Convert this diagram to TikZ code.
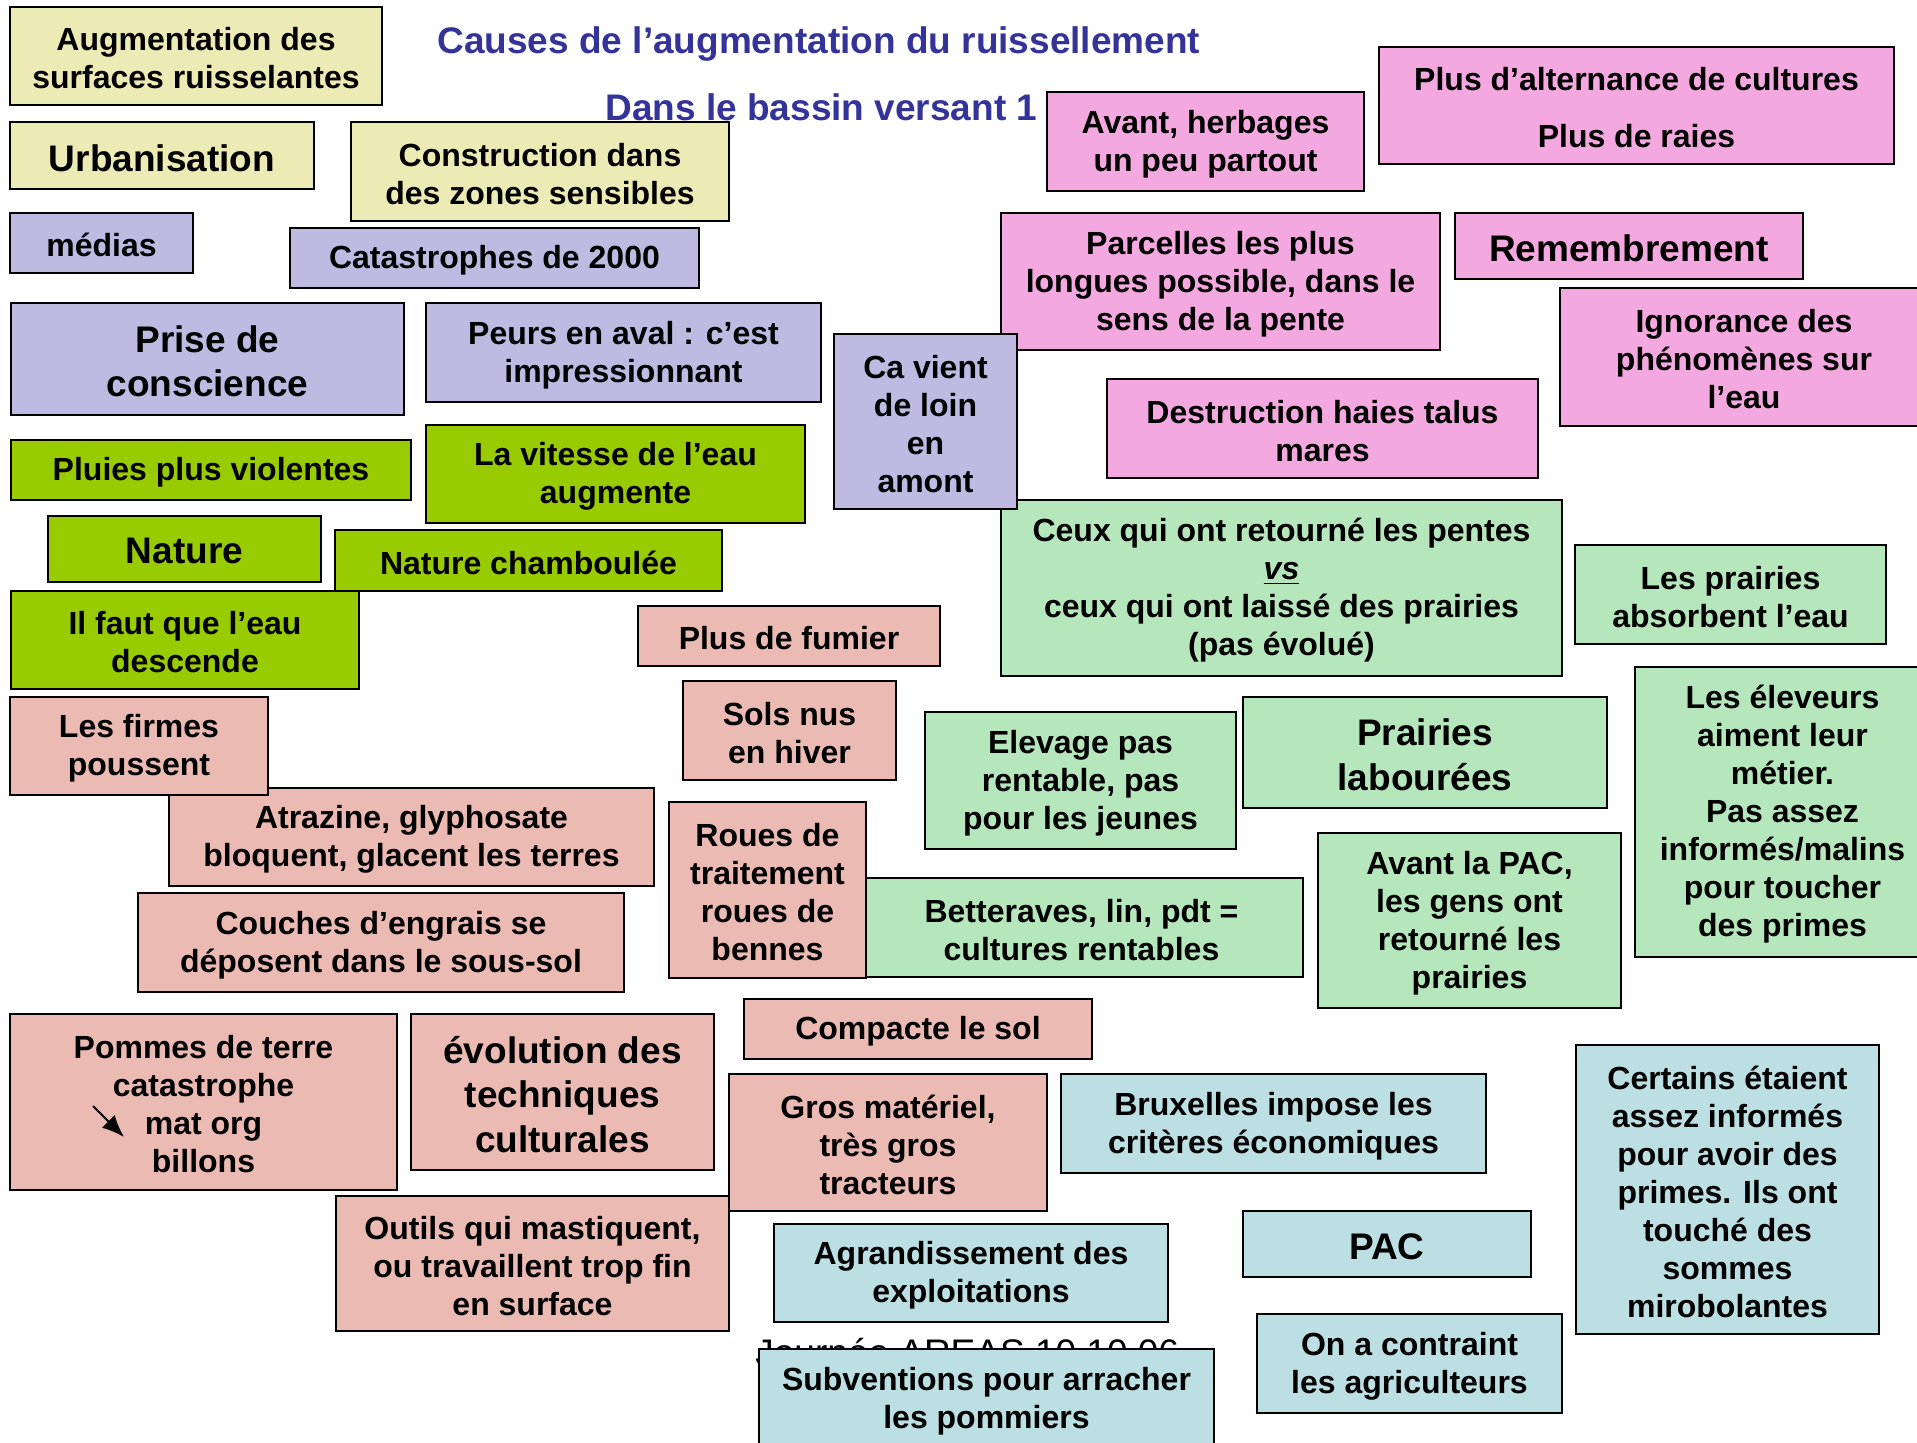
\documentclass[tikz,border=0pt]{standalone}
\usepackage{fontspec}
\setmainfont{Liberation Sans}
\usetikzlibrary{arrows.meta}
\definecolor{cyel}{HTML}{EDEBB5}
\definecolor{clav}{HTML}{BFBAE2}
\definecolor{cgrn}{HTML}{99CC00}
\definecolor{csal}{HTML}{EBBBB3}
\definecolor{cpnk}{HTML}{F4A8E0}
\definecolor{clgr}{HTML}{B6E6BC}
\definecolor{cblu}{HTML}{BBDFE3}
\definecolor{ctitle}{HTML}{333399}
\tikzset{
  box/.style={draw=black, line width=1pt, inner sep=0pt, align=center,
    font=\bfseries\fontsize{16}{19}\selectfont},
  boxtext/.style={draw=none, fill=none, inner sep=0pt},
  big/.style={font=\bfseries\fontsize{18.5}{22.2}\selectfont},
  yel/.style={fill=cyel}, lav/.style={fill=clav}, grn/.style={fill=cgrn},
  sal/.style={fill=csal}, pnk/.style={fill=cpnk}, lgr/.style={fill=clgr},
  blu/.style={fill=cblu},
  titletext/.style={anchor=base west, inner sep=0pt, text=ctitle,
    font=\bfseries\fontsize{18.5}{22.2}\selectfont},
}
\newcommand\bx[7]{%
  \node[box,#6,minimum width={(#4-#2)*0.5pt},minimum height={(#5-#3)*0.5pt}] (#1) at ({(#2+#4)/2},{(#3+#5)/2}) {};%
  \node[box,#6,boxtext] (#1-t) at ([yshift=-1.2pt]#1.center) {#7};}
\begin{document}
\begin{tikzpicture}[x=0.5pt,y=-0.5pt]
\useasboundingbox (0,0) rectangle (1917,1443);
\clip (0,0) rectangle (1917,1443);
% titles
\node[titletext] (title) at (437,54) {Causes de l’augmentation du ruissellement};
\node[titletext] (subtitle) at (605,121) {Dans le bassin versant 1};
% yellow
\bx{aug}{10}{7}{382}{105}{yel}{Augmentation des\\surfaces ruisselantes}
\bx{urb}{10}{122}{314}{189}{yel,big}{Urbanisation}
\bx{constr}{351}{122}{729}{221}{yel}{Construction dans\\des zones sensibles}
% lavender
\bx{medias}{10}{213}{193}{273}{lav}{médias}
\bx{catas}{290}{228}{699}{288}{lav}{Catastrophes de 2000}
\bx{prise}{11}{303}{404}{415}{lav,big}{Prise de\\conscience}
\bx{peurs}{426}{303}{821}{402}{lav}{Peurs en aval : c’est\\impressionnant}
% green
\bx{pluies}{11}{440}{411}{500}{grn}{Pluies plus violentes}
\bx{vitesse}{426}{425}{805}{523}{grn}{La vitesse de l’eau\\augmente}
\bx{nature}{48}{516}{321}{582}{grn,big}{Nature}
\bx{chamb}{335}{530}{722}{591}{grn}{Nature chamboulée}
\bx{faut}{11}{591}{359}{689}{grn}{Il faut que l’eau\\descende}
% salmon
\bx{fumier}{638}{606}{940}{666}{sal}{Plus de fumier}
\bx{atraz}{169}{788}{654}{886}{sal}{Atrazine, glyphosate\\bloquent, glacent les terres}
\bx{firmes}{10}{697}{268}{795}{sal}{Les firmes\\poussent}
\bx{sols}{683}{681}{896}{780}{sal}{Sols nus\\en hiver}
\bx{couches}{138}{893}{624}{992}{sal}{Couches d’engrais se\\déposent dans le sous-sol}
\bx{bett}{860}{878}{1303}{977}{lgr}{Betteraves, lin, pdt =\\cultures rentables}
\bx{roues}{669}{802}{866}{978}{sal}{Roues de\\traitement\\roues de\\bennes}
\bx{pommes}{10}{1014}{397}{1190}{sal}{Pommes de terre\\catastrophe\\mat org\\billons}
\bx{evol}{411}{1014}{714}{1170}{sal,big}{évolution des\\techniques\\culturales}
\bx{compacte}{744}{999}{1092}{1059}{sal}{Compacte le sol}
\bx{gros}{729}{1074}{1047}{1211}{sal}{Gros matériel,\\très gros\\tracteurs}
\bx{outils}{336}{1196}{729}{1331}{sal}{Outils qui mastiquent,\\ou travaillent trop fin\\en surface}
\coordinate (pa) at (93,1106);
\coordinate (pb) at (124,1137);
\draw[line width=1pt,-{Latex[length=11pt,width=9pt]}] (pa) -- (pb);
% pink
\bx{avherb}{1047}{92}{1364}{191}{pnk}{Avant, herbages\\un peu partout}
\bx{altern}{1379}{47}{1894}{164}{pnk}{Plus d’alternance de cultures\\[9.5pt]Plus de raies}
\bx{parcelles}{1001}{213}{1440}{350}{pnk}{Parcelles les plus\\longues possible, dans le\\sens de la pente}
\bx{remem}{1455}{213}{1803}{279}{pnk,big}{Remembrement}
\bx{ignor}{1560}{288}{1928}{426}{pnk}{Ignorance des\\phénomènes sur\\l’eau}
\bx{destr}{1107}{379}{1538}{478}{pnk}{Destruction haies talus\\mares}
% light green
\bx{ceux}{1001}{500}{1562}{676}{lgr}{Ceux qui ont retourné les pentes\\\underline{\textit{vs}}\\ceux qui ont laissé des prairies\\(pas évolué)}
\bx{cavient}{834}{334}{1017}{509}{lav}{Ca vient\\de loin\\en\\amont}
\bx{absorb}{1575}{545}{1886}{644}{lgr}{Les prairies\\absorbent l’eau}
\bx{eleveurs}{1635}{667}{1930}{957}{lgr}{Les éleveurs\\aiment leur\\métier.\\Pas assez\\informés/malins\\pour toucher\\des primes}
\bx{elevage}{925}{712}{1236}{849}{lgr}{Elevage pas\\rentable, pas\\pour les jeunes}
\bx{prlab}{1243}{697}{1607}{808}{lgr,big}{Prairies\\labourées}
\bx{avpac}{1318}{833}{1621}{1008}{lgr}{Avant la PAC,\\les gens ont\\retourné les\\prairies}
% light blue
\bx{brux}{1061}{1074}{1486}{1173}{blu}{Bruxelles impose les\\critères économiques}
\bx{pac}{1243}{1211}{1531}{1277}{blu,big}{PAC}
\bx{certains}{1576}{1045}{1879}{1334}{blu}{Certains étaient\\assez informés\\pour avoir des\\primes. Ils ont\\touché des\\sommes\\mirobolantes}
\bx{agrand}{774}{1224}{1168}{1322}{blu}{Agrandissement des\\exploitations}
\bx{contraint}{1257}{1314}{1562}{1413}{blu}{On a contraint\\les agriculteurs}
\node[anchor=base west, inner sep=0pt, font=\fontsize{18.5}{22.2}\selectfont] (journee) at (755,1365) {Journée AREAS 10.10.06};
\bx{subv}{759}{1349}{1214}{1449}{blu}{Subventions pour arracher\\les pommiers}
\end{tikzpicture}
\end{document}
